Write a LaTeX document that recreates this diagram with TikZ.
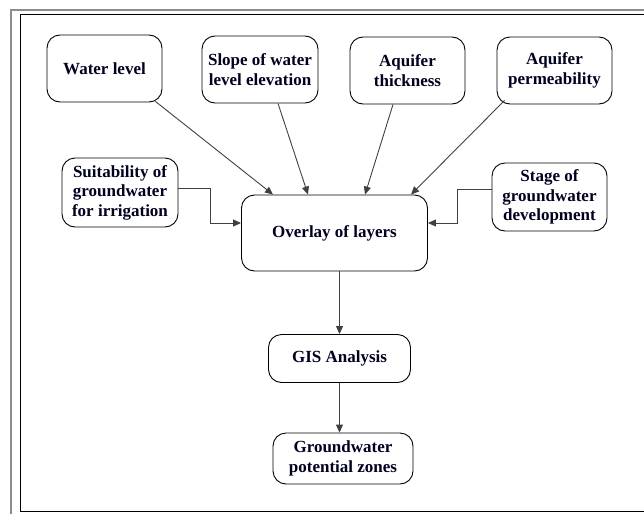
\documentclass[tikz,border=0pt]{standalone}
\usepackage{fontspec}
\setmainfont{Liberation Serif}
\usetikzlibrary{arrows.meta}
\begin{document}
\begin{tikzpicture}[x=1pt,y=-1pt,
  box/.style={draw=black,line width=0.9pt,rounded corners=13pt,align=center,
    inner sep=0pt,font=\fontsize{17}{19.5}\selectfont\bfseries,text=black!88!blue},
  arr/.style={draw=black!75,line width=0.9pt,-{Triangle[length=8pt,width=7pt]}}]
\useasboundingbox (0,0) rectangle (644,514);
% frame
\draw[black!45,line width=1.2pt] (11,514) -- (11,10) -- (644,10);
\draw[black,line width=1pt] (644,511) -- (20,511) -- (20,14) -- (644,14);
% nodes
\node[box,minimum width=115pt,minimum height=67pt] (wl) at (104.5,68.5) {Water level};
\node[box,minimum width=116pt,minimum height=67pt] (sl) at (260,69.5) {Slope of water\\level elevation};
\node[box,minimum width=115pt,minimum height=67pt] (th) at (407.5,70.5) {Aquifer\\thickness};
\node[box,minimum width=115pt,minimum height=67pt] (pe) at (554.5,70.5) {Aquifer\\permeability};
\node[box,minimum width=116pt,minimum height=69pt] (su) at (120,192.5) {Suitability of\\groundwater\\for irrigation};
\node[box,minimum width=115pt,minimum height=68pt] (st) at (549.5,197) {Stage of\\groundwater\\development};
\node[box,minimum width=186pt,minimum height=76pt] (ov) at (334.5,233) {Overlay of layers};
\node[box,minimum width=142pt,minimum height=48pt] (gis) at (339.5,358.5) {GIS Analysis};
\node[box,minimum width=140pt,minimum height=51pt] (gw) at (343,458.5) {Groundwater\\potential zones};
% connectors
\draw[arr] ([xshift=-7pt,yshift=1pt]wl.south east) -- ([xshift=-61.5pt]ov.north);
\draw[arr] ([xshift=18pt]sl.south) -- ([xshift=-26.5pt]ov.north);
\draw[arr] ([xshift=-14.5pt]th.south) -- ([xshift=30.5pt]ov.north);
\draw[arr] ([xshift=8pt,yshift=4pt]pe.south west) -- ([xshift=76.5pt]ov.north);
\draw[arr] ([yshift=4.5pt]su.east) -- ++(32,0) |- ([yshift=10pt]ov.west);
\draw[arr] ([yshift=8pt]st.west) -- ++(-34,0) |- ([yshift=10pt]ov.east);
\draw[arr] (ov.south -| gis.north) -- (gis.north);
\draw[arr] (gis.south) -- (gis.south |- gw.north);
\end{tikzpicture}
\end{document}
